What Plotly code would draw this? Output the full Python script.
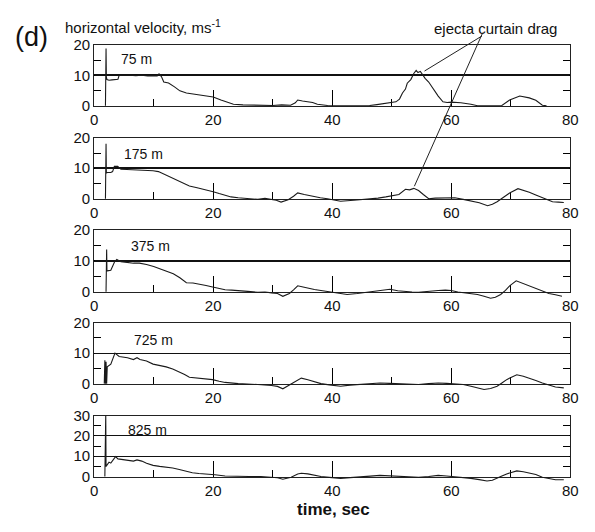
import plotly.graph_objects as go

# ---------------- data ----------------
labels = ["75 m", "175 m", "375 m", "725 m", "825 m"]
y_max = [20, 20, 20, 20, 30]

p1_t = [1.9, 2.0, 2.05, 2.15, 2.5, 3.0, 3.5, 4.0, 4.2, 5, 6, 7, 8, 9, 10,
        10.6, 10.9, 11.3, 11.7, 12.5, 13.5, 14.4, 15.5, 16.5, 18.0, 19.0, 20.0, 21.3, 22.3, 23.4,
        25, 26.7, 28, 30, 31.5, 33, 33.8, 34.2, 35.0, 35.9, 36.7, 37.5, 38.5, 39.2, 41,
        43, 45, 46.3, 47.5, 49, 50.0, 50.7, 51.3, 51.8, 52.3, 52.6, 53.2, 53.7, 54.1, 54.4,
        54.8, 55.2, 55.6, 56.2, 56.7, 57.3, 57.8, 58.6, 59.3, 60, 61.6, 63.3, 64.4, 66, 68.5,
        69.8, 71.5, 73.1, 74.2, 75.3, 76]
p1_v = [0, 18.8, 9.5, 8.6, 8.4, 8.5, 8.6, 8.7, 10, 9.9, 10, 9.9, 10, 9.8, 9.9,
        9.8, 10.5, 9.6, 7.8, 7.5, 6.2, 4.9, 4.2, 3.9, 3.4, 3.1, 2.9, 1.9, 1.2, 0.5,
        0.3, 0.2, 0.1, 0.1, 0.3, 0.2, 1.0, 1.9, 1.6, 1.4, 1.1, 0.5, 0.3, 0.1, 0,
        0, 0, 0.1, 0.4, 0.8, 0.9, 1.3, 2.2, 4.2, 5.5, 7.4, 8.6, 10.6, 11.6, 10.9,
        11.3, 10.2, 9.0, 7.8, 6.3, 4.8, 3.2, 1.3, 1.1, 1.2, 1.0, 0.5, 0, 0, 0.1,
        1.9, 3.2, 2.6, 1.8, 0.2, 0]

p2_t = [1.9, 2.0, 2.05, 2.2, 2.8, 3.1, 3.4, 3.95, 4.5, 5.5, 6.6, 7.7, 8.8, 9.9, 10.8,
        11.6, 12.7, 13.8, 14.9, 16.0, 17.3, 18.7, 20.0, 21.0, 22.0, 23.0, 24.2, 25.8, 27.5, 28.7,
        29.8, 30.6, 31.4, 32.6, 33.5, 34.2, 35.3, 36.9, 38.0, 39.2, 40.3, 41.4, 43.6, 45.0, 46.3,
        47.7, 49.0, 50.1, 51.2, 52.3, 53.0, 53.7, 54.5, 55.3, 56.2, 57.3, 58.4, 59.5, 60.6, 62.0,
        63.3, 64.7, 66.1, 66.9, 67.7, 68.8, 69.8, 71.2, 72.1, 73.1, 74.2, 75.3, 76.1, 77.0, 78.0,
        78.9]
p2_v = [0, 18.0, 8.4, 8.6, 8.6, 8.9, 10.6, 10.6, 9.7, 9.6, 9.5, 9.6, 9.5, 9.2, 8.9,
        8.2, 7.1, 6.1, 5.2, 4.2, 3.6, 3.0, 2.3, 1.7, 1.1, 0.6, 0.3, 0.1, -0.2, 0.1,
        -0.2, -0.5, -1.1, -0.3, 0.8, 1.9, 1.4, 0.6, 0.3, 0, -0.4, -0.8, -0.5, -0.3, 0,
        0.2, 0.6, 0.9, 1.4, 3.1, 2.9, 3.4, 2.7, 1.4, 0, 0.2, 0.3, 0.4, 0.3, -0.2,
        -0.7, -1.3, -2.3, -1.8, -1.0, 0.4, 1.9, 3.3, 2.8, 2.1, 1.2, 0.3, -0.3, -1.0, -1.1,
        -1.25]

p3_t = [2.0, 2.1, 2.15, 2.2, 2.8, 3.4, 3.8, 4.5, 5.5, 6.6, 7.6, 8.2, 8.8, 10.0, 11.1,
        12.2, 13.3, 14.4, 15.5, 16.6, 17.7, 18.8, 19.9, 21.0, 22.0, 23.1, 24.2, 25.8, 27.5, 28.7,
        29.8, 30.8, 31.7, 32.8, 33.5, 34.2, 35.1, 35.9, 37.0, 38.1, 39.2, 40.3, 41.4, 42.5, 44.2,
        45.8, 47.0, 48.0, 49.7, 51.0, 52.3, 53.4, 54.5, 56.2, 57.8, 59.0, 60.0, 61.1, 62.2, 63.3,
        64.4, 65.5, 66.6, 67.4, 68.3, 69.1, 69.8, 70.9, 72.0, 73.1, 74.2, 75.3, 76.4, 77.5, 78.6]
p3_v = [0, 13.6, 6.7, 6.7, 6.9, 9.5, 10.4, 9.7, 9.4, 9.2, 9.2, 9.0, 8.75, 8.1, 7.4,
        6.6, 5.8, 4.5, 2.9, 2.8, 2.5, 2.0, 1.5, 1.0, 0.6, 0.5, 0.4, 0.1, -0.2, -0.1,
        -0.4, -0.6, -1.5, -0.6, 0.6, 1.9, 1.5, 1.1, 0.7, 0.4, 0.1, -0.4, -0.6, -0.9, -0.6,
        -0.2, 0.1, 0.4, 0.8, 0.3, 0, -0.1, -0.2, 0.2, 0.4, 0.5, 0.4, -0.1, -0.4, -0.6,
        -0.9, -1.5, -2.1, -1.8, -0.9, 0.4, 1.9, 3.5, 2.7, 2.0, 1.1, 0.3, -0.6, -1.0, -1.5]

p4_t = [1.7, 1.8, 1.9, 2.0, 2.1, 2.2, 2.8, 3.2, 3.5, 4.2, 5.0, 5.6, 6.6, 7.2, 7.7,
        8.8, 9.9, 11.0, 12.1, 13.2, 14.3, 15.2, 16.0, 17.7, 19.9, 21.0, 22.0, 24.2, 25.8, 27.5,
        29.8, 30.8, 31.7, 33.1, 34.2, 34.8, 35.9, 37.0, 38.1, 39.5, 41.4, 43.0, 44.7, 46.4, 48.0,
        49.6, 51.2, 52.9, 54.5, 56.2, 57.8, 59.2, 60.6, 62.0, 63.3, 64.4, 65.5, 66.6, 67.7, 68.5,
        69.3, 70.2, 71.0, 72.1, 73.1, 74.2, 75.3, 76.4, 77.5, 78.9]
p4_v = [0, 7.7, 0, 7.2, 0, 5.5, 6.4, 8.7, 10.0, 8.9, 8.7, 8.5, 7.9, 8.5, 7.9,
        7.4, 6.4, 6.0, 5.5, 4.8, 3.9, 3.0, 2.1, 1.8, 1.3, 0.8, 0.4, 0, -0.1, -0.3,
        -0.6, -0.9, -1.7, 0, 1.3, 1.8, 1.3, 0.6, 0, -0.4, -0.85, -0.5, -0.3, 0, 0.2,
        0.1, 0, -0.1, -0.3, 0, 0.2, 0.1, 0, -0.3, -0.85, -1.3, -1.9, -1.6, -0.85, 0.2,
        1.3, 2.2, 2.9, 2.4, 1.8, 1.0, 0.2, -0.5, -1.1, -1.4]

p5_t = [1.8, 1.85, 1.9, 1.95, 2.0, 2.1, 2.2, 2.5, 2.8, 3.6, 4.0, 5.0, 5.6, 6.6, 7.2,
        8.0, 8.8, 9.9, 11.0, 12.1, 13.2, 14.3, 15.4, 16.5, 17.6, 18.7, 20.3, 22.0, 24.2, 26.0,
        28.0, 29.8, 30.8, 31.7, 33.1, 34.2, 34.8, 35.9, 37.0, 38.1, 39.5, 41.4, 43.0, 44.7, 46.4,
        48.0, 49.6, 51.2, 52.9, 54.5, 56.2, 57.8, 59.2, 60.6, 62.0, 63.3, 64.7, 66.0, 66.9, 67.7,
        68.5, 69.3, 70.2, 71.0, 72.1, 73.1, 74.2, 75.3, 76.4, 77.5, 78.9]
p5_v = [0, 19.7, 0, 30.8, 5.0, 5.5, 5.5, 7.1, 6.6, 9.8, 8.7, 8.2, 7.9, 7.6, 8.2,
        7.6, 6.6, 5.5, 5.0, 4.7, 4.2, 3.5, 2.7, 1.9, 1.5, 1.3, 0.9, 0.3, 0, 0,
        0, -0.3, -0.6, -1.3, -0.3, 1.3, 1.6, 1.3, 0.6, 0, -0.4, -0.9, -0.5, -0.3, 0.2,
        0.6, 0.4, 0, -0.2, -0.3, 0, 0.6, 0.3, 0, -0.4, -0.9, -1.5, -2.2, -1.8, -0.9,
        0.3, 1.3, 2.2, 2.8, 2.4, 1.9, 1.0, -0.3, -1.0, -1.6, -1.6]

series_t = [p1_t, p2_t, p3_t, p4_t, p5_t]
series_v = [p1_v, p2_v, p3_v, p4_v, p5_v]
label_pos = [(4.1, 15.2), (4.6, 14.6), (5.8, 14.9), (6.3, 14.3), (5.3, 22.9)]
x_ticks = [0, 20, 40, 60, 80]

# ---------------- layout ----------------
W, H = 595, 532
FONT = "Liberation Sans, Arial, sans-serif"
x_left, x_right = 92, 578
panel_px = [(37, 100), (133, 196), (228, 292), (324, 387), (420, 483)]
grid_w = [1.8, 1.8, 1.8, 1.1, 1.1]
EXT = 3.5  # extra room below zero so dips below the axis are visible
CLEAR = "rgba(0,0,0,0)"

fig = go.Figure()
layout = dict(
    width=W, height=H, margin=dict(l=0, r=0, t=0, b=0),
    plot_bgcolor=CLEAR, showlegend=False,
)
xd = [x_left / W, x_right / W]
for i in range(5):
    top, bot = panel_px[i]
    ymx = y_max[i]
    d0 = 1 - bot / H
    d1 = 1 - top / H
    px_per_unit = (bot - top) / ymx
    d0_ext = 1 - (bot + EXT * px_per_unit) / H
    n = "" if i == 0 else str(i + 1)
    hn = str(i + 6)
    layout["xaxis" + n] = dict(
        domain=xd, anchor="y" + n, range=[0, 80], tickvals=x_ticks,
        ticks="inside", ticklen=16, tickcolor="black",
        minor=dict(dtick=10, tick0=0, ticks="inside", ticklen=7),
        showline=True, linecolor="#222", mirror=True,
        gridcolor=CLEAR, zerolinecolor=CLEAR,
        tickfont=dict(size=15, family=FONT, color="#111"),
    )
    layout["yaxis" + n] = dict(
        domain=[d0, d1], anchor="x" + n, range=[0, ymx], dtick=10,
        ticks="inside", ticklen=1, tickcolor="black",
        minor=dict(dtick=5, tick0=0, ticks="inside", ticklen=7),
        showline=True, linecolor="#222", mirror="ticks",
        showgrid=True, gridcolor="#111", gridwidth=grid_w[i], zerolinecolor=CLEAR,
        tickfont=dict(size=15, family=FONT, color="#111"),
    )
    # separate hidden axis pair for the data, reaching a little below zero
    layout["xaxis" + hn] = dict(domain=xd, anchor="y" + hn, range=[0, 80], visible=False)
    layout["yaxis" + hn] = dict(domain=[d0_ext, d1], anchor="x" + hn, range=[-EXT, ymx], visible=False)
    fig.add_trace(go.Scatter(x=[], y=[], xaxis="x" + n, yaxis="y" + n))
    fig.add_trace(go.Scatter(
        x=series_t[i], y=series_v[i], mode="lines",
        line=dict(color="#1a1a1a", width=1.1), xaxis="x" + hn, yaxis="y" + hn,
    ))

annotations = []
for i in range(5):
    n = "" if i == 0 else str(i + 1)
    annotations.append(dict(
        x=label_pos[i][0], y=label_pos[i][1], xref="x" + n, yref="y" + n,
        text=labels[i], showarrow=False, xanchor="left", yanchor="middle",
        font=dict(size=14, family=FONT, color="#111"),
    ))
annotations += [
    dict(x=28 / W, y=1 - 29 / H, xref="paper", yref="paper", text="(d)", showarrow=False,
         xanchor="center", yanchor="middle", font=dict(size=27, family=FONT, color="#111")),
    dict(x=60 / W, y=1 - 30 / H, xref="paper", yref="paper",
         text="horizontal velocity, ms<sup>-1</sup>", showarrow=False,
         xanchor="left", yanchor="bottom", font=dict(size=15, family=FONT, color="#111")),
    dict(x=502 / W, y=1 - 20 / H, xref="paper", yref="paper", text="ejecta curtain drag",
         showarrow=False, xanchor="center", yanchor="middle",
         font=dict(size=15, family=FONT, color="#111")),
    dict(x=336 / W, y=1 - 517 / H, xref="paper", yref="paper", text="<b>time, sec</b>",
         showarrow=False, xanchor="center", yanchor="middle",
         font=dict(size=17, family=FONT, color="#111")),
    dict(x=55.5, y=11.4, xref="x", yref="y", text="", showarrow=True, arrowhead=0,
         arrowwidth=1, arrowcolor="#222", ax=59, ay=-36, standoff=0, startstandoff=0),
    dict(x=53.8, y=4.1, xref="x2", yref="y2", text="", showarrow=True, arrowhead=0,
         arrowwidth=1, arrowcolor="#222", ax=69, ay=-155, standoff=0, startstandoff=0),
]
layout["annotations"] = annotations
fig.update_layout(**layout)
fig.write_html("out.html")
